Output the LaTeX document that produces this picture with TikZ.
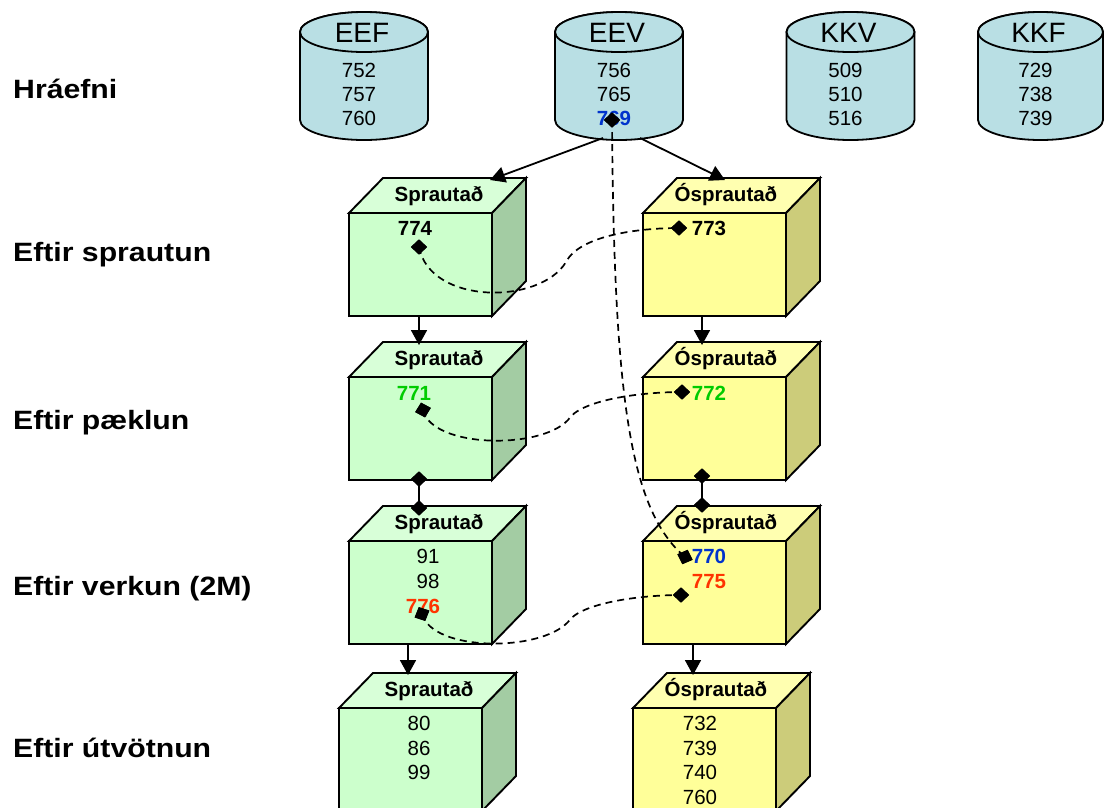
\documentclass[tikz,border=0pt]{standalone}
\usepackage{fontspec}
\setmainfont{Liberation Sans}
\usetikzlibrary{arrows.meta,shapes.geometric}
\definecolor{cylfill}{RGB}{185,223,228}
\definecolor{gfront}{RGB}{204,255,204}
\definecolor{gtop}{RGB}{216,255,216}
\definecolor{gside}{RGB}{163,204,163}
\definecolor{yfront}{RGB}{255,255,153}
\definecolor{ytop}{RGB}{255,255,176}
\definecolor{yside}{RGB}{204,204,122}
\definecolor{numblue}{RGB}{0,51,204}
\definecolor{numred}{RGB}{255,51,0}
\definecolor{numgreen}{RGB}{0,204,0}
\tikzset{
  cyl/.style={draw=black,line width=1.8pt,fill=cylfill},
  cubeline/.style={draw=black,line width=1.9pt,line join=miter},
  cyltitle/.style={anchor=base,inner sep=0pt,font=\fontsize{28}{30}\selectfont},
  cylnum/.style={anchor=base,inner sep=0pt,font=\fontsize{20.5}{22}\selectfont},
  cubetitle/.style={anchor=base,inner sep=0pt,font=\fontsize{20.5}{22}\selectfont\bfseries},
  cubenum/.style={anchor=base,inner sep=0pt,font=\fontsize{20.5}{22}\selectfont},
  cubebold/.style={anchor=base,inner sep=0pt,font=\fontsize{20.5}{22}\selectfont\bfseries},
  rowlabel/.style={anchor=base west,inner sep=0pt,font=\fontsize{26.5}{28}\selectfont\bfseries},
  dmark/.style={diamond,fill=black,draw=none,inner sep=0pt,minimum width=16pt,minimum height=15pt},
  dashcurve/.style={draw=black,line width=1.7pt,dash pattern=on 7pt off 5pt},
  flowarrow/.style={draw=black,line width=1.8pt,-{Triangle[length=15pt,width=16pt]}},
  plainline/.style={draw=black,line width=1.8pt}
}
\newcommand{\drawcyl}[7]{%
  \path[cyl] (#2-#3,32) -- (#2-#3,120) arc[start angle=180,end angle=0,x radius=#3,y radius=20]
     -- (#2+#3,32) arc[start angle=0,end angle=-180,x radius=#3,y radius=20] -- cycle;
  \path[cyl] (#2,32) ellipse[x radius=#3,y radius=20];
  \node[cyltitle] (#1) at (#2-2,42) {#4};
  \node[cylnum] (#1-a) at (#2-5,77) {#5};
  \node[cylnum] (#1-b) at (#2-5,101) {#6};
  \node[cylnum] (#1-c) at (#2-5,125) {#7};
}
\newcommand{\drawcube}[5]{%
  \path[cubeline,fill=#4] (#1,#2) -- ++(34,-35) -- ++(143,0) -- ++(-34,35) -- cycle;
  \path[cubeline,fill=#5] (#1+143,#2) -- ++(34,-35) -- ++(0,103) -- ++(-34,35) -- cycle;
  \path[cubeline,fill=#3] (#1,#2) rectangle ++(143,103);
}
\begin{document}
\begin{tikzpicture}[x=1pt,y=1pt,yscale=-1]
\clip (0,0) rectangle (1104,807);
\fill[white] (0,0) rectangle (1104,807);

% row labels
\node[rowlabel] (lab0) at (13,98) {\scalebox{1.14}[1]{Hráefni}};
\node[rowlabel] (lab1) at (13,261) {\scalebox{1.14}[1]{Eftir sprautun}};
\node[rowlabel] (lab2) at (13,429) {\scalebox{1.14}[1]{Eftir pæklun}};
\node[rowlabel] (lab3) at (13,595) {\scalebox{1.14}[1]{Eftir verkun (2M)}};
\node[rowlabel] (lab4) at (13,757) {\scalebox{1.14}[1]{Eftir útvötnun}};

% cylinders
\drawcyl{EEF}{364}{64}{EEF}{752}{757}{760}
\drawcyl{EEV}{619}{64}{EEV}{756}{765}{\textcolor{numblue}{\bfseries 769}}
\drawcyl{KKV}{850.5}{64}{KKV}{509}{510}{516}
\drawcyl{KKF}{1040.5}{62.5}{KKF}{729}{738}{739}

% cubes
\drawcube{349}{213}{gfront}{gtop}{gside}
\drawcube{643}{213}{yfront}{ytop}{yside}
\drawcube{349}{377}{gfront}{gtop}{gside}
\drawcube{643}{377}{yfront}{ytop}{yside}
\drawcube{349}{541}{gfront}{gtop}{gside}
\drawcube{643}{541}{yfront}{ytop}{yside}
\drawcube{339}{708}{gfront}{gtop}{gside}
\drawcube{633}{708}{yfront}{ytop}{yside}

% cube titles
\node[cubetitle] (t1l) at (439,201) {Sprautað};
\node[cubetitle] (t1r) at (726,201) {Ósprautað};
\node[cubetitle] (t2l) at (439,365) {Sprautað};
\node[cubetitle] (t2r) at (726,365) {Ósprautað};
\node[cubetitle] (t3l) at (439,529) {Sprautað};
\node[cubetitle] (t3r) at (726,529) {Ósprautað};
\node[cubetitle] (t4l) at (429,696) {Sprautað};
\node[cubetitle] (t4r) at (716,696) {Ósprautað};

% cube contents
\node[cubebold] (n774) at (415,235) {774};
\node[cubebold] (n773) at (709,235) {773};
\node[cubebold,text=numgreen] (n771) at (414,400) {771};
\node[cubebold,text=numgreen] (n772) at (709,400) {772};
\node[cubenum] (n91) at (428,563) {91};
\node[cubenum] (n98) at (428,588) {98};
\node[cubebold,text=numred] (n776) at (423,613) {776};
\node[cubebold,text=numblue] (n770) at (709,563) {770};
\node[cubebold,text=numred] (n775) at (709,588) {775};
\node[cubenum] (n80) at (419,730) {80};
\node[cubenum] (n86) at (419,755) {86};
\node[cubenum] (n99) at (419,779) {99};
\node[cubenum] (n732) at (700,730) {732};
\node[cubenum] (n739) at (700,755) {739};
\node[cubenum] (n740) at (700,779) {740};
\node[cubenum] (n760) at (700,804) {760};

% connector end points
\coordinate (eevL) at (603,138);
\coordinate (eevR) at (640,138);
\coordinate (c1lTop) at (490,180);
\coordinate (c1rTop) at (725,180);
\coordinate (a1l) at (419,316);
\coordinate (b2l) at (419,345);
\coordinate (a1r) at (702,316);
\coordinate (b2r) at (702,345);
\coordinate (a3l) at (408,644);
\coordinate (b4l) at (408,675);
\coordinate (a3r) at (693,644);
\coordinate (b4r) at (693,675);

% arrows
\draw[flowarrow] (eevL) -- (c1lTop);
\draw[flowarrow] (eevR) -- (c1rTop);
\draw[flowarrow] (a1l) -- (b2l);
\draw[flowarrow] (a1r) -- (b2r);
\draw[flowarrow] (a3l) -- (b4l);
\draw[flowarrow] (a3r) -- (b4r);

% diamonds
\node[dmark] (dE) at (612,120) {};
\node[dmark] (d1l) at (419,247) {};
\node[dmark] (d1r) at (679,228) {};
\node[dmark,rotate=15] (d2l) at (423,410) {};
\node[dmark] (d2r) at (682,392) {};
\node[dmark,rotate=25] (d3l) at (422,614) {};
\node[dmark] (d3r) at (681,595) {};
\node[dmark,rotate=-20] (d770) at (685,557) {};
\node[dmark] (c2l) at (419,479) {};
\node[dmark] (c3l) at (419,508) {};
\node[dmark] (c2r) at (702,476) {};
\node[dmark] (c3r) at (702,505) {};

% plain connectors with diamond ends
\draw[plainline] (c2l.center) -- (c3l.center);
\draw[plainline] (c2r.center) -- (c3r.center);

% dashed links
\draw[dashcurve] (d1l.center) .. controls (430,305) and (540,305) .. (566,262)
  .. controls (580,235) and (640,228) .. (d1r.center);
\draw[dashcurve] (d2l.center) .. controls (432,448) and (540,450) .. (568,420)
  .. controls (580,400) and (640,392) .. (d2r.center);
\draw[dashcurve] (d3l.center) .. controls (433,652) and (540,652) .. (568,622)
  .. controls (580,603) and (640,595) .. (d3r.center);
\draw[dashcurve] (dE.center) .. controls (614,400) and (630,510) .. (d770.center);

% redraw diamonds on top
\foreach \d in {dE,d1l,d1r,d2l,d2r,d3l,d3r,d770,c2l,c3l,c2r,c3r}{
  \fill[black] (\d.north) -- (\d.east) -- (\d.south) -- (\d.west) -- cycle;
}
\end{tikzpicture}
\end{document}
